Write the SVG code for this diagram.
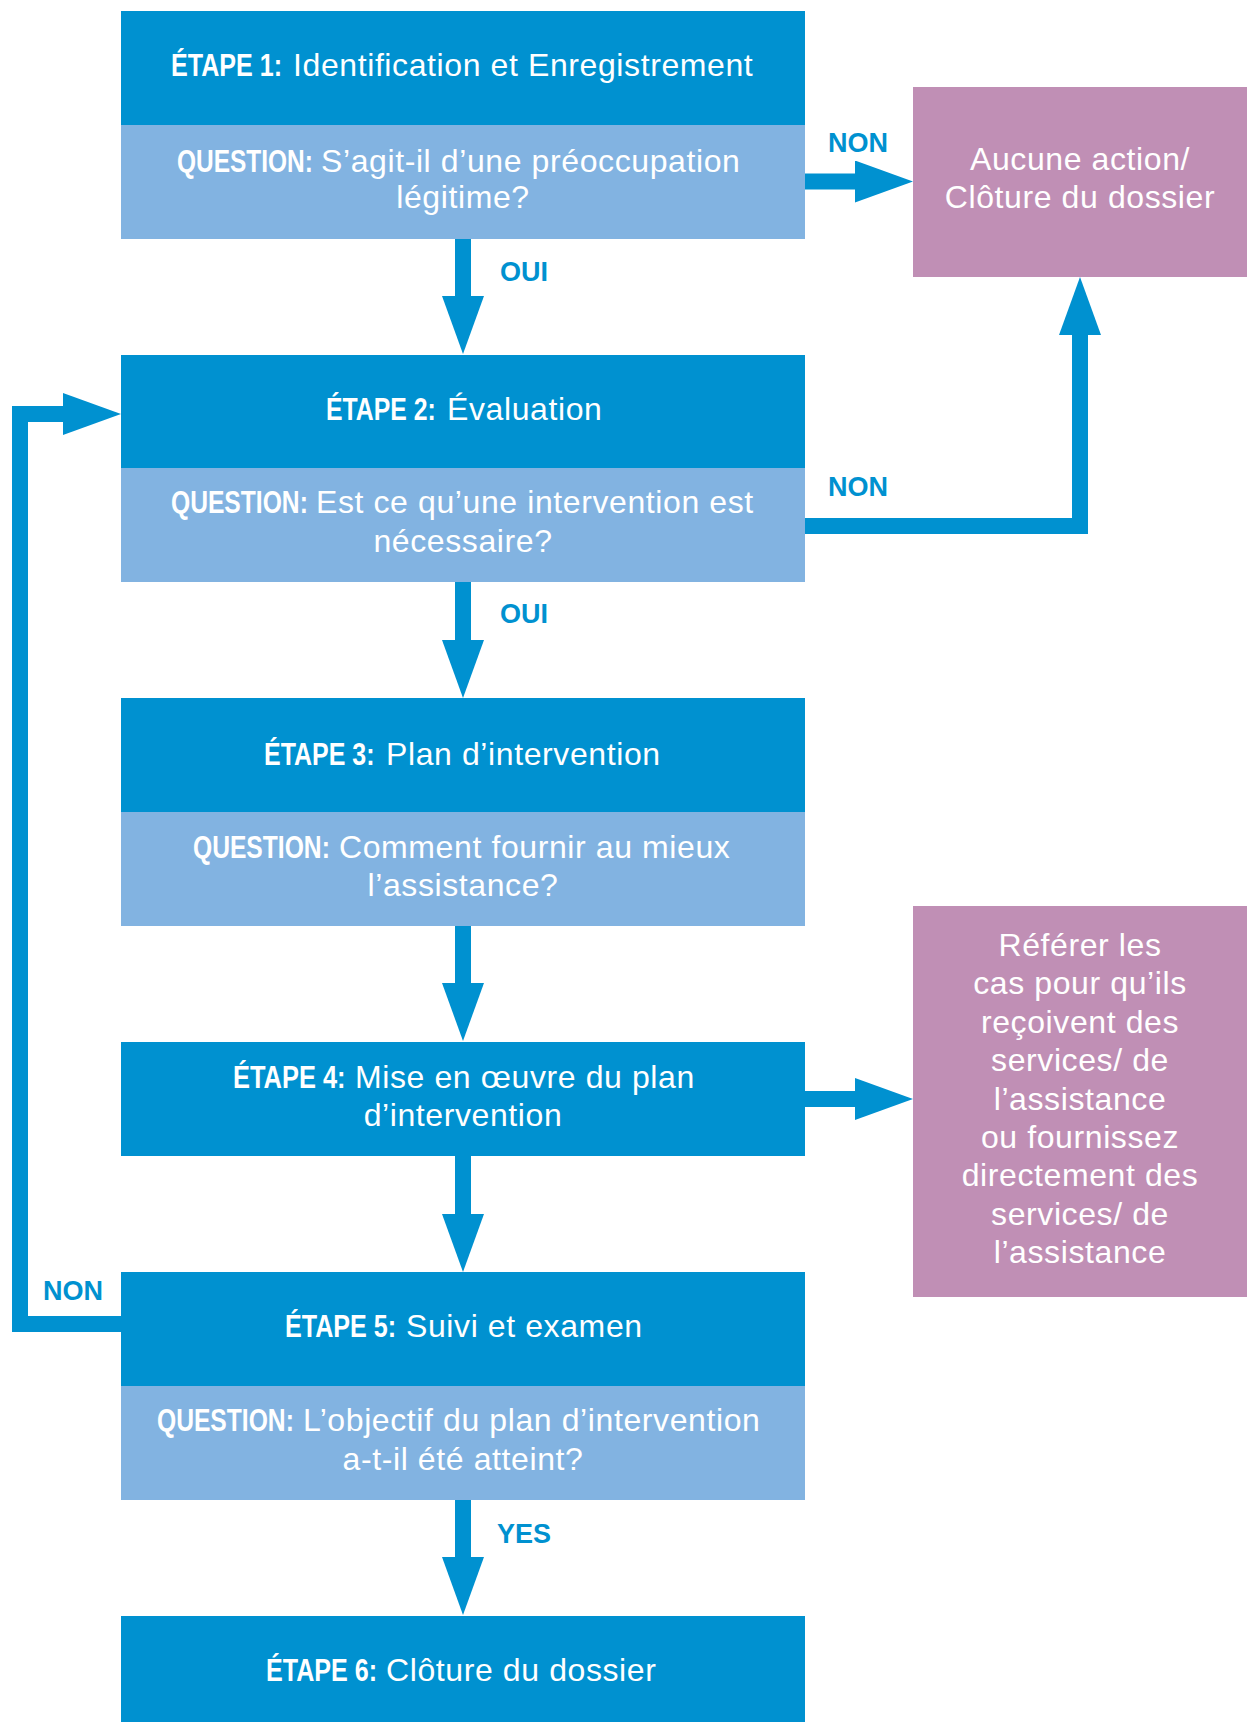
<svg xmlns="http://www.w3.org/2000/svg" width="1247" height="1722" viewBox="0 0 1247 1722">
  <style>
    .dark { fill: #0091D0; }
    .light { fill: #82B3E1; }
    .side { fill: #C08FB5; }
    .t { font-family: "Liberation Sans", Arial, sans-serif; font-size: 32px; letter-spacing: 0.6px; fill: #ffffff; }
    .b { font-family: "Liberation Sans", Arial, sans-serif; font-size: 32px; font-weight: bold; fill: #ffffff; }
    .m { text-anchor: middle; }
    .lbl { font-family: "Liberation Sans", Arial, sans-serif; font-size: 27px; font-weight: bold; fill: #0091D0; }
    .conn { fill: none; stroke: #0091D0; stroke-width: 16; stroke-linejoin: miter; stroke-linecap: butt; }
  </style>
  <defs>
    <marker id="ah" markerUnits="userSpaceOnUse" markerWidth="58" markerHeight="42" refX="0" refY="21" orient="auto" viewBox="0 0 58 42">
      <path d="M0,0 L58,21 L0,42 Z" fill="#0091D0"/>
    </marker>
  </defs>
  <rect width="1247" height="1722" fill="#ffffff"/>

  <g id="connectors">
    <path class="conn" d="M463,239 V296" marker-end="url(#ah)"/>
    <path class="conn" d="M463,582 V640" marker-end="url(#ah)"/>
    <path class="conn" d="M463,926 V983" marker-end="url(#ah)"/>
    <path class="conn" d="M463,1156 V1214" marker-end="url(#ah)"/>
    <path class="conn" d="M463,1500 V1557" marker-end="url(#ah)"/>
    <path class="conn" d="M805,181.5 H855" marker-end="url(#ah)"/>
    <path class="conn" d="M805,1099 H855" marker-end="url(#ah)"/>
    <path class="conn" d="M805,526 H1080 V335" marker-end="url(#ah)"/>
    <path class="conn" d="M121,1324 H20 V414 H63" marker-end="url(#ah)"/>
    <text class="lbl m" x="858" y="152">NON</text>
    <text class="lbl" x="500" y="281">OUI</text>
    <text class="lbl m" x="858" y="496">NON</text>
    <text class="lbl" x="500" y="623">OUI</text>
    <text class="lbl m" x="73" y="1300">NON</text>
    <text class="lbl" x="497" y="1543">YES</text>
  </g>

  <g id="step1">
    <rect class="dark" x="121" y="11" width="684" height="114"/>
    <rect class="light" x="121" y="125" width="684" height="114"/>
    <text class="b" transform="translate(171,76) scale(0.785,1)">ÉTAPE 1:</text>
    <text class="t" x="293" y="76">Identification et Enregistrement</text>
    <text class="b" transform="translate(177,172) scale(0.765,1)">QUESTION:</text>
    <text class="t" x="321" y="172">S’agit-il d’une préoccupation</text>
    <text class="t m" x="463" y="208">légitime?</text>
  </g>

  <g id="no-action">
    <rect class="side" x="913" y="87" width="334" height="190"/>
    <text class="t m" x="1080" y="170">Aucune action/</text>
    <text class="t m" x="1080" y="208">Clôture du dossier</text>
  </g>

  <g id="step2">
    <rect class="dark" x="121" y="355" width="684" height="113"/>
    <rect class="light" x="121" y="468" width="684" height="114"/>
    <text class="b" transform="translate(326,420) scale(0.775,1)">ÉTAPE 2:</text>
    <text class="t" x="447" y="420">Évaluation</text>
    <text class="b" transform="translate(171,513) scale(0.77,1)">QUESTION:</text>
    <text class="t" x="316" y="513">Est ce qu’une intervention est</text>
    <text class="t m" x="463" y="552">nécessaire?</text>
  </g>

  <g id="step3">
    <rect class="dark" x="121" y="698" width="684" height="114"/>
    <rect class="light" x="121" y="812" width="684" height="114"/>
    <text class="b" transform="translate(264,765) scale(0.78,1)">ÉTAPE 3:</text>
    <text class="t" x="386" y="765">Plan d’intervention</text>
    <text class="b" transform="translate(193,858) scale(0.77,1)">QUESTION:</text>
    <text class="t" x="339" y="858">Comment fournir au mieux</text>
    <text class="t m" x="463" y="896">l’assistance?</text>
  </g>

  <g id="refer">
    <rect class="side" x="913" y="906" width="334" height="391"/>
    <text class="t m" x="1080" y="956">Référer les</text>
    <text class="t m" x="1080" y="994">cas pour qu’ils</text>
    <text class="t m" x="1080" y="1033">reçoivent des</text>
    <text class="t m" x="1080" y="1071">services/ de</text>
    <text class="t m" x="1080" y="1110">l’assistance</text>
    <text class="t m" x="1080" y="1148">ou fournissez</text>
    <text class="t m" x="1080" y="1186">directement des</text>
    <text class="t m" x="1080" y="1225">services/ de</text>
    <text class="t m" x="1080" y="1263">l’assistance</text>
  </g>

  <g id="step4">
    <rect class="dark" x="121" y="1042" width="684" height="114"/>
    <text class="b" transform="translate(233,1088) scale(0.795,1)">ÉTAPE 4:</text>
    <text class="t" x="355" y="1088">Mise en œuvre du plan</text>
    <text class="t m" x="463" y="1126">d’intervention</text>
  </g>

  <g id="step5">
    <rect class="dark" x="121" y="1272" width="684" height="114"/>
    <rect class="light" x="121" y="1386" width="684" height="114"/>
    <text class="b" transform="translate(285,1337) scale(0.785,1)">ÉTAPE 5:</text>
    <text class="t" x="406" y="1337">Suivi et examen</text>
    <text class="b" transform="translate(157,1431) scale(0.77,1)">QUESTION:</text>
    <text class="t" x="303" y="1431">L’objectif du plan d’intervention</text>
    <text class="t m" x="463" y="1470">a-t-il été atteint?</text>
  </g>

  <g id="step6">
    <rect class="dark" x="121" y="1616" width="684" height="106"/>
    <text class="b" transform="translate(266,1681) scale(0.785,1)">ÉTAPE 6:</text>
    <text class="t" x="386" y="1681">Clôture du dossier</text>
  </g>
</svg>
